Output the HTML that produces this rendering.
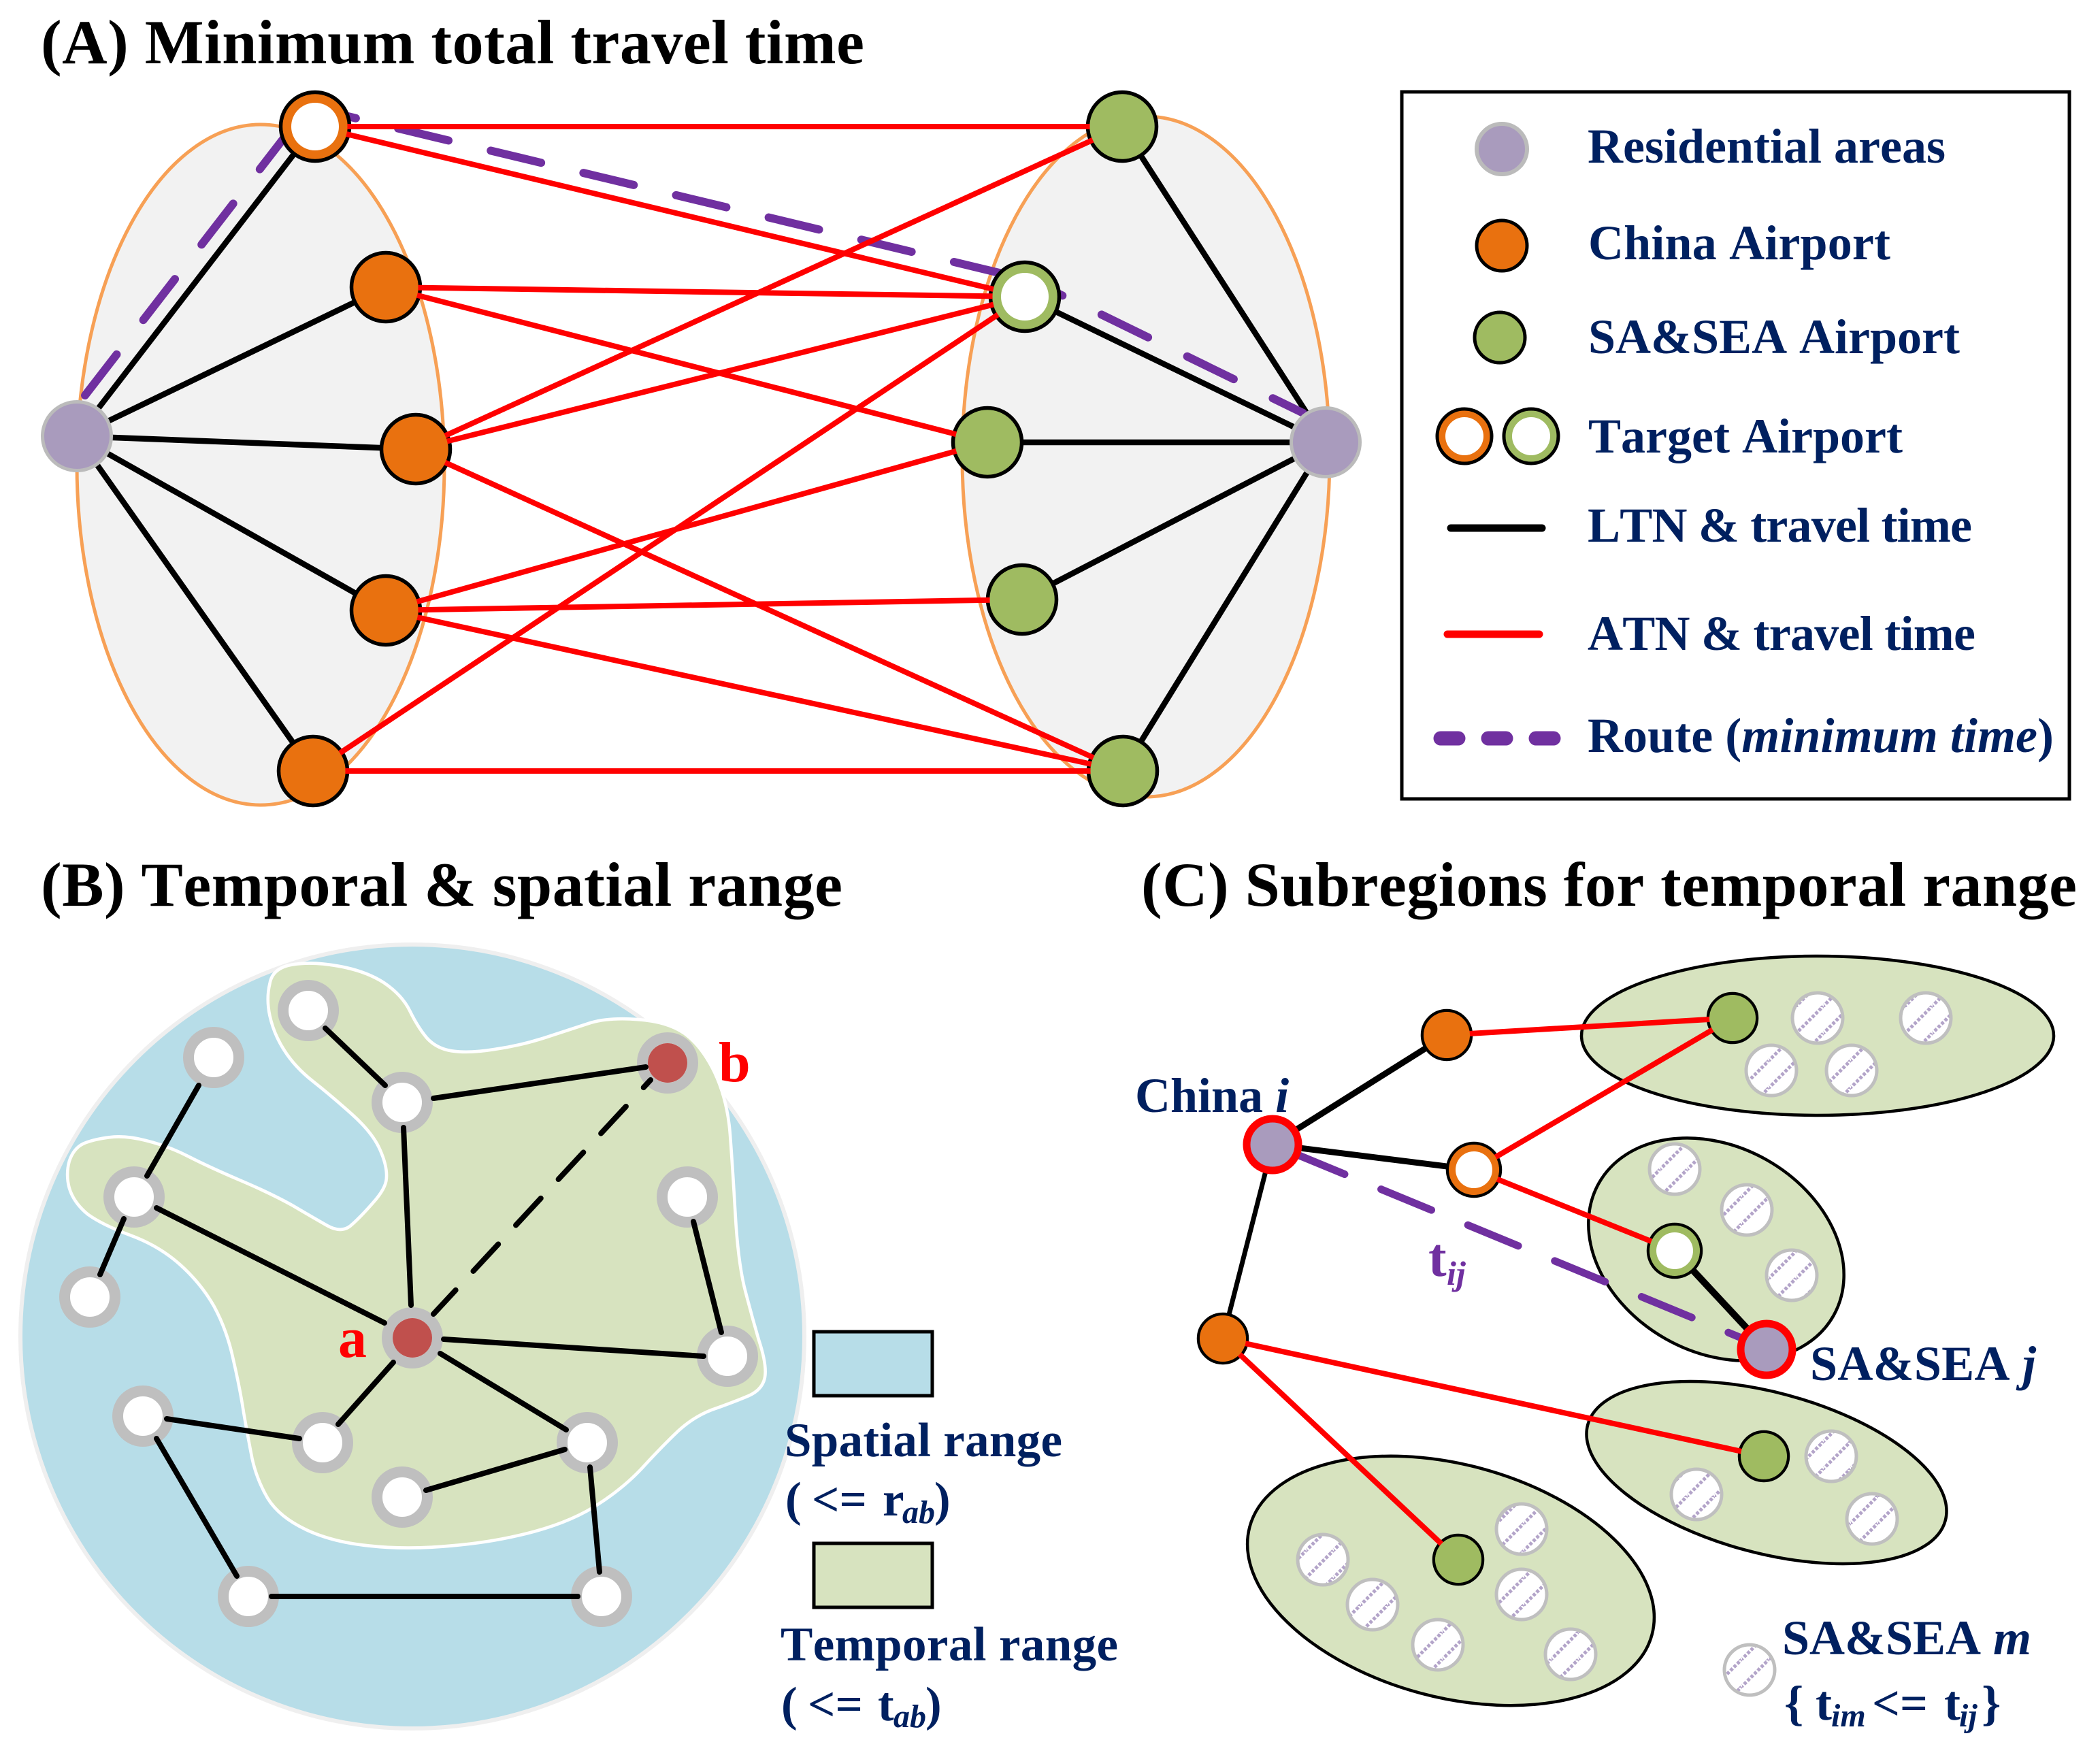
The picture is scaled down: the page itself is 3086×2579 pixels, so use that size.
<!DOCTYPE html>
<html><head><meta charset="utf-8"><style>html,body{margin:0;padding:0;background:#fff}svg{display:block}text{font-family:"Liberation Serif",serif;font-weight:bold;font-kerning:none}</style></head>
<body>
<svg xmlns="http://www.w3.org/2000/svg" width="3086" height="2579" viewBox="0 0 3086 2579">
<defs>
<pattern id="h" patternUnits="userSpaceOnUse" width="40" height="40">
<rect width="40" height="40" fill="#fff"/>
<path d="M-2,40 L40,-2 M36,42 L42,36" stroke="#b3a4c9" stroke-width="5" stroke-dasharray="4.5 2.57" fill="none"/>
</pattern>
</defs>
<rect width="3086" height="2579" fill="#fff"/>

<!-- Titles -->
<g fill="#000" font-size="92">
<text x="60" y="93" textLength="1210">(A) Minimum total travel time</text>
<text x="60" y="1331" textLength="1178">(B) Temporal &amp; spatial range</text>
<text x="1677" y="1331" textLength="1375">(C) Subregions for temporal range</text>
</g>

<!-- Panel A -->
<g fill="#f2f2f2" stroke="#f7a055" stroke-width="5">
<ellipse cx="383" cy="683" rx="270" ry="500"/>
<ellipse cx="1684" cy="671" rx="270" ry="500"/>
</g>
<g stroke="#000" stroke-width="8.5" fill="none">
<line x1="113" y1="641" x2="463" y2="186"/>
<line x1="113" y1="641" x2="567" y2="422"/>
<line x1="113" y1="641" x2="611" y2="660"/>
<line x1="113" y1="641" x2="567" y2="897"/>
<line x1="113" y1="641" x2="460" y2="1133"/>
<line x1="1948" y1="650" x2="1649" y2="186"/>
<line x1="1948" y1="650" x2="1506" y2="436"/>
<line x1="1948" y1="650" x2="1451" y2="650"/>
<line x1="1948" y1="650" x2="1502" y2="881"/>
<line x1="1948" y1="650" x2="1650" y2="1133"/>
</g>
<g stroke="#7030a0" stroke-width="12" stroke-linecap="round" stroke-dasharray="76 64" fill="none">
<line x1="125" y1="581" x2="458" y2="150"/>
<line x1="449" y1="156" x2="1506" y2="410"/>
<line x1="1493" y1="401" x2="1915" y2="607"/>
</g>
<g stroke="#000" stroke-width="5.5">
<g fill="#e9710f">
<circle cx="463" cy="186" r="50.5"/>
<circle cx="567" cy="422" r="50.5"/>
<circle cx="611" cy="660" r="50.5"/>
<circle cx="567" cy="897" r="50.5"/>
<circle cx="460" cy="1133" r="50.5"/>
</g>
<g fill="#9fbb61">
<circle cx="1649" cy="186" r="50.5"/>
<circle cx="1506" cy="436" r="50.5"/>
<circle cx="1451" cy="650" r="50.5"/>
<circle cx="1502" cy="881" r="50.5"/>
<circle cx="1650" cy="1133" r="50.5"/>
</g>
</g>
<g stroke="#ff0000" stroke-width="8" fill="none">
<line x1="463" y1="186" x2="1649" y2="186"/>
<line x1="463" y1="186" x2="1506" y2="436"/>
<line x1="567" y1="422" x2="1506" y2="436"/>
<line x1="567" y1="422" x2="1451" y2="650"/>
<line x1="611" y1="660" x2="1649" y2="186"/>
<line x1="611" y1="660" x2="1506" y2="436"/>
<line x1="611" y1="660" x2="1650" y2="1133"/>
<line x1="567" y1="897" x2="1451" y2="650"/>
<line x1="567" y1="897" x2="1502" y2="881"/>
<line x1="567" y1="897" x2="1650" y2="1133"/>
<line x1="460" y1="1133" x2="1506" y2="436"/>
<line x1="460" y1="1133" x2="1650" y2="1133"/>
</g>
<g fill="#e9710f">
<circle cx="463" cy="186" r="47.5"/>
<circle cx="567" cy="422" r="47.5"/>
<circle cx="611" cy="660" r="47.5"/>
<circle cx="567" cy="897" r="47.5"/>
<circle cx="460" cy="1133" r="47.5"/>
</g>
<g fill="#9fbb61">
<circle cx="1649" cy="186" r="47.5"/>
<circle cx="1506" cy="436" r="47.5"/>
<circle cx="1451" cy="650" r="47.5"/>
<circle cx="1502" cy="881" r="47.5"/>
<circle cx="1650" cy="1133" r="47.5"/>
</g>
<circle cx="463" cy="186" r="35" fill="#fff"/>
<circle cx="1506" cy="436" r="35" fill="#fff"/>
<g fill="#a99bbd" stroke="#bbbbbb" stroke-width="5">
<circle cx="113" cy="641" r="50.5"/>
<circle cx="1948" cy="650" r="50.5"/>
</g>

<!-- Legend A -->
<rect x="2060" y="135" width="981" height="1039" fill="#fff" stroke="#000" stroke-width="5"/>
<circle cx="2207" cy="219" r="37" fill="#a99bbd" stroke="#bbbbbb" stroke-width="6"/>
<circle cx="2207" cy="361" r="37" fill="#e9710f" stroke="#000" stroke-width="5"/>
<circle cx="2204" cy="496" r="37" fill="#9fbb61" stroke="#000" stroke-width="5"/>
<circle cx="2152" cy="641" r="40" fill="#e9710f" stroke="#000" stroke-width="5"/>
<circle cx="2152" cy="641" r="28" fill="#fff"/>
<circle cx="2250" cy="641" r="40" fill="#9fbb61" stroke="#000" stroke-width="5"/>
<circle cx="2250" cy="641" r="28" fill="#fff"/>
<line x1="2132" y1="776" x2="2266" y2="776" stroke="#000" stroke-width="11" stroke-linecap="round"/>
<line x1="2127" y1="932" x2="2262" y2="932" stroke="#f00" stroke-width="11" stroke-linecap="round"/>
<g stroke="#7030a0" stroke-width="21" stroke-linecap="round">
<line x1="2117" y1="1085" x2="2143" y2="1085"/>
<line x1="2187" y1="1085" x2="2213" y2="1085"/>
<line x1="2257" y1="1085" x2="2283" y2="1085"/>
</g>
<g fill="#002060" font-size="72">
<text x="2333" y="239" textLength="526">Residential areas</text>
<text x="2334" y="381" textLength="444">China Airport</text>
<text x="2334" y="519" textLength="546">SA&amp;SEA Airport</text>
<text x="2334" y="665" textLength="462">Target Airport</text>
<text x="2333" y="796" textLength="565">LTN &amp; travel time</text>
<text x="2333" y="955" textLength="570">ATN &amp; travel time</text>
<text x="2333" y="1105" textLength="685">Route (<tspan font-style="italic">minimum time</tspan>)</text>
</g>

<!-- Panel B -->
<circle cx="606" cy="1964" r="576" fill="#b7dde8" stroke="#efefef" stroke-width="6"/>
<g transform="translate(0,1350) scale(.7653,.7836)">
<path fill="#d7e3bf" stroke="#fff" stroke-width="6" d="M518,122 Q523,92 562,86 Q600,80 650,89 Q702,98 737,120 Q772,143 787,173 Q802,203 819,223 Q837,243 867,248 Q900,253 950,245 Q1000,238 1050,222 Q1100,206 1135,195 Q1170,185 1225,189 Q1282,193 1314,215 Q1347,238 1372,288 Q1397,340 1402,405 Q1407,470 1412,555 Q1417,640 1429,690 Q1442,740 1457,790 Q1474,840 1468,863 Q1462,886 1432,897 Q1402,909 1367,921 Q1332,934 1302,961 Q1272,989 1237,1026 Q1202,1064 1152,1096 Q1102,1129 1027,1149 Q952,1169 867,1176 Q780,1184 708,1176 Q638,1169 588,1146 Q536,1122 514,1087 Q493,1052 484,1012 Q476,972 468,927 Q461,882 448,827 Q436,772 411,727 Q386,684 346,649 Q306,614 251,594 Q196,574 168,554 Q141,532 133,505 Q126,480 133,455 Q141,431 160,422 Q178,414 210,410 Q240,406 280,416 Q322,426 362,446 Q402,466 462,491 Q522,516 562,538 Q602,561 629,576 Q655,590 673,576 Q691,561 716,533 Q741,506 742,487 Q744,465 730,434 Q716,402 676,367 Q636,332 601,305 Q566,278 546,247 Q526,217 518,182 Q511,150 518,122 Z"/>
</g>
<g fill="#fff" stroke="#bfbfbf" stroke-width="16">
<circle cx="453" cy="1485" r="37"/>
<circle cx="591" cy="1620" r="37"/>
<circle cx="981" cy="1562" r="37"/>
<circle cx="314" cy="1554" r="37"/>
<circle cx="197" cy="1759" r="37"/>
<circle cx="132" cy="1906" r="37"/>
<circle cx="1010" cy="1759" r="37"/>
<circle cx="606" cy="1966" r="37"/>
<circle cx="1069" cy="1993" r="37"/>
<circle cx="210" cy="2081" r="37"/>
<circle cx="474" cy="2120" r="37"/>
<circle cx="863" cy="2120" r="37"/>
<circle cx="591" cy="2200" r="37"/>
<circle cx="365" cy="2346" r="37"/>
<circle cx="884" cy="2346" r="37"/>
</g>
<circle cx="981" cy="1562" r="29" fill="#c0504d"/>
<circle cx="606" cy="1966" r="29" fill="#c0504d"/>
<g stroke="#000" stroke-width="8" stroke-linecap="round" fill="none">
<line x1="478" y1="1511" x2="566" y2="1595"/>
<line x1="637" y1="1614" x2="949" y2="1568"/>
<line x1="292" y1="1595" x2="216" y2="1728"/>
<line x1="182" y1="1791" x2="147" y2="1873"/>
<line x1="593" y1="1657" x2="604" y2="1918"/>
<line x1="230" y1="1775" x2="565" y2="1944"/>
<line x1="652" y1="1968" x2="1034" y2="1993"/>
<line x1="578" y1="2002" x2="497" y2="2093"/>
<line x1="647" y1="1989" x2="832" y2="2101"/>
<line x1="1019" y1="1795" x2="1060" y2="1958"/>
<line x1="245" y1="2085" x2="440" y2="2114"/>
<line x1="230" y1="2114" x2="348" y2="2316"/>
<line x1="830" y1="2130" x2="626" y2="2190"/>
<line x1="867" y1="2156" x2="881" y2="2310"/>
<line x1="399" y1="2346" x2="849" y2="2346"/>
</g>
<line x1="637" y1="1931" x2="956" y2="1587" stroke="#000" stroke-width="8" stroke-dasharray="54 38" stroke-dashoffset="6" stroke-linecap="round"/>
<text x="497" y="1994" font-size="84" fill="#f00">a</text>
<text x="1056" y="1589" font-size="84" fill="#f00">b</text>

<!-- Legend B -->
<rect x="1196" y="1957" width="174" height="94" fill="#b7dde8" stroke="#000" stroke-width="5"/>
<rect x="1196" y="2268" width="174" height="94" fill="#d7e3bf" stroke="#000" stroke-width="5"/>
<g fill="#002060" font-size="71">
<text x="1153" y="2140" textLength="408">Spatial range</text>
<text x="1154" y="2227">(</text><text x="1193" y="2227">&lt;=</text><text x="1297" y="2227">r</text>
<text x="1326" y="2238" font-size="48" font-style="italic">ab</text><text x="1373" y="2227">)</text>
<text x="1147" y="2440" textLength="496">Temporal range</text>
<text x="1148" y="2528">(</text><text x="1187" y="2528">&lt;=</text><text x="1290" y="2528">t</text>
<text x="1313" y="2538" font-size="48" font-style="italic">ab</text><text x="1360" y="2528">)</text>
</g>

<!-- Panel C -->
<g fill="#d7e3bf" stroke="#000" stroke-width="4.5">
<ellipse cx="2671" cy="1522" rx="347" ry="117"/>
<ellipse cx="0" cy="0" rx="198" ry="151" transform="translate(2522,1836) rotate(29.5)"/>
<ellipse cx="0" cy="0" rx="272" ry="118" transform="translate(2596,2164) rotate(15)"/>
<ellipse cx="0" cy="0" rx="306" ry="171" transform="translate(2132,2323) rotate(15)"/>
</g>
<g stroke="#000" fill="none">
<line x1="1870" y1="1682" x2="2126" y2="1521" stroke-width="9"/>
<line x1="1870" y1="1682" x2="2166" y2="1719" stroke-width="9"/>
<line x1="1870" y1="1682" x2="1797" y2="1967" stroke-width="7"/>
<line x1="2461" y1="1838" x2="2596" y2="1983" stroke-width="10"/>
</g>
<line x1="1902" y1="1695" x2="2566" y2="1969" stroke="#7030a0" stroke-width="11" stroke-linecap="round" stroke-dasharray="80 58"/>
<g fill="url(#h)" stroke="#bfbfbf" stroke-width="5">
<circle cx="2671" cy="1496" r="37"/><circle cx="2830" cy="1496" r="37"/><circle cx="2603" cy="1573" r="37"/><circle cx="2721" cy="1573" r="37"/>
<circle cx="2461" cy="1718" r="37"/><circle cx="2567" cy="1778" r="37"/><circle cx="2633" cy="1874" r="37"/>
<circle cx="2691" cy="2140" r="37"/><circle cx="2493" cy="2196" r="37"/><circle cx="2751" cy="2232" r="37"/>
<circle cx="2236" cy="2247" r="37"/><circle cx="1944" cy="2292" r="37"/><circle cx="2017" cy="2358" r="37"/><circle cx="2236" cy="2343" r="37"/><circle cx="2113" cy="2417" r="37"/><circle cx="2308" cy="2431" r="37"/>
<circle cx="2571" cy="2454" r="37"/>
</g>
<g stroke="#000" stroke-width="4.5">
<g fill="#e9710f">
<circle cx="2126" cy="1521" r="36"/>
<circle cx="1797" cy="1967" r="36"/>
<circle cx="2166" cy="1719" r="39"/>
</g>
<g fill="#9fbb61">
<circle cx="2546" cy="1496" r="36"/>
<circle cx="2592" cy="2140" r="36"/>
<circle cx="2143" cy="2292" r="36"/>
<circle cx="2461" cy="1838" r="39"/>
</g>
</g>
<g stroke="#f00" stroke-width="8" fill="none">
<line x1="2126" y1="1521" x2="2546" y2="1496"/>
<line x1="2166" y1="1719" x2="2546" y2="1496"/>
<line x1="2166" y1="1719" x2="2461" y2="1838"/>
<line x1="1797" y1="1967" x2="2592" y2="2140"/>
<line x1="1797" y1="1967" x2="2143" y2="2292"/>
</g>
<g fill="#e9710f">
<circle cx="2126" cy="1521" r="34"/>
<circle cx="1797" cy="1967" r="34"/>
<circle cx="2166" cy="1719" r="37"/>
</g>
<g fill="#9fbb61">
<circle cx="2546" cy="1496" r="34"/>
<circle cx="2592" cy="2140" r="34"/>
<circle cx="2143" cy="2292" r="34"/>
<circle cx="2461" cy="1838" r="37"/>
</g>
<circle cx="2166" cy="1719" r="27" fill="#fff"/>
<circle cx="2461" cy="1838" r="27" fill="#fff"/>
<g fill="#a99bbd" stroke="#f00" stroke-width="11">
<circle cx="1870" cy="1682" r="38"/>
<circle cx="2596" cy="1983" r="38"/>
</g>
<g fill="#002060" font-size="72">
<text x="1668" y="1634">China <tspan font-style="italic">i</tspan></text>
<text x="2660" y="2028" textLength="332">SA&amp;SEA <tspan font-style="italic">j</tspan></text>
<text x="2619" y="2431" textLength="366">SA&amp;SEA <tspan font-style="italic">m</tspan></text>
<text x="2622" y="2527">{</text><text x="2668" y="2527">t</text>
<text x="2691" y="2537" font-size="48" font-style="italic">im</text>
<text x="2751" y="2527">&lt;=</text><text x="2857" y="2527">t</text>
<text x="2879" y="2537" font-size="48" font-style="italic">ij</text>
<text x="2912" y="2527">}</text>
</g>
<text x="2099" y="1875" font-size="80" fill="#7030a0">t</text>
<text x="2126" y="1888" font-size="50" font-style="italic" fill="#7030a0">ij</text>
</svg>
</body></html>
